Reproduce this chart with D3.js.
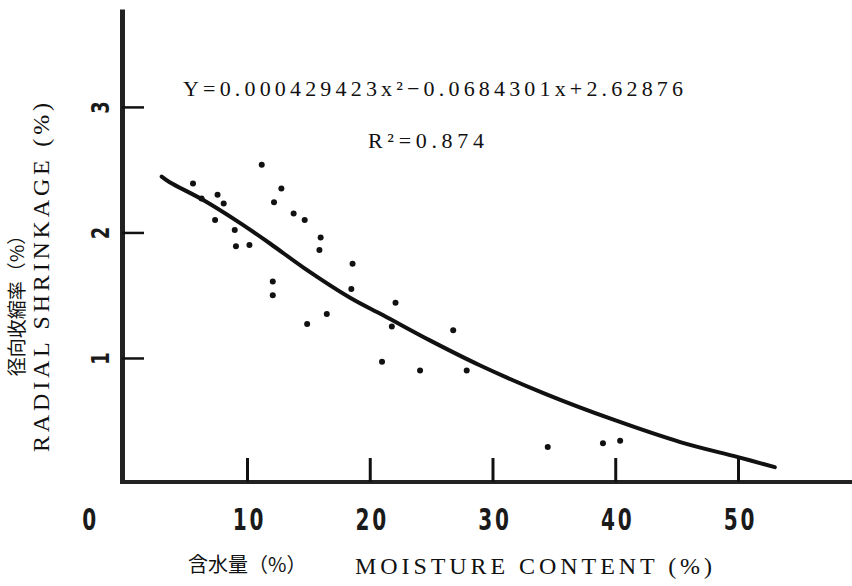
<!DOCTYPE html>
<html>
<head>
<meta charset="utf-8">
<script src="https://cdn.jsdelivr.net/npm/d3@7"></script>
<style>
	body { margin: 0; background: #fff; }
</style>
</head>
<body>
<svg class="chart"></svg>
<script>
/* Radial shrinkage vs moisture content, scatter with fitted curve */

// measured points (moisture %, radial shrinkage %)
var moisture = [5.6, 6.3, 7.6, 7.4, 8.1, 9.0, 9.1, 10.2, 11.2, 12.2, 12.8, 13.8, 14.7,
	15.9, 16.0, 18.6, 12.1, 12.1, 18.5, 22.1, 16.5, 14.9, 21.8, 26.8, 21.0, 24.1,
	27.9, 34.5, 39.0, 40.4];
var shrinkage = [2.39, 2.27, 2.30, 2.10, 2.23, 2.02, 1.89, 1.90, 2.54, 2.24, 2.35, 2.15, 2.10,
	1.86, 1.96, 1.75, 1.61, 1.50, 1.55, 1.44, 1.35, 1.27, 1.25, 1.22, 0.97, 0.90,
	0.90, 0.29, 0.32, 0.34];

// fitted curve as drawn in the figure
var fitMoisture = [3.05, 3.7, 6.4, 9.2, 11.9, 14.6, 18.4, 21.1, 24.9, 29.0, 34.4, 39.8, 45.3, 50.0, 53.0];
var fitShrinkage = [2.445, 2.40, 2.26, 2.09, 1.91, 1.72, 1.48, 1.34, 1.14, 0.94, 0.71, 0.51, 0.33, 0.21, 0.13];

var xTicks = [0, 10, 20, 30, 40, 50];
var yTicks = [1, 2, 3];

var equationText = "Y=0.000429423x²−0.0684301x+2.62876";
var r2Text = "R²=0.874";
var yTitleCn = "径向收縮率（%）";
var yTitleEn = "RADIAL SHRINKAGE (%)";
var xTitleCn = "含水量（%）";
var xTitleEn = "MOISTURE CONTENT (%)";

// stretch a text to a given width by letter spacing
function fitWidth(sel, w) {
	var n = sel.text().length;
	var bw = sel.node().getComputedTextLength();
	sel.attr("letter-spacing", Math.max(0, (w - bw) / (n - 1)));
}

function drawChart() {
	var width = 852, height = 586;
	var axisX = 122, axisY = 482;

	var x = d3.scaleLinear()
		.domain([0, 59.5])
		.range([124.25, 854.6]);

	var y = d3.scaleLinear()
		.domain([0, 3.78])
		.range([483.5, 9]);

	var svg = d3.select(".chart")
		.attr("width", width)
		.attr("height", height);

	// x axis, ticks pointing up into the plot
	var xAxis = d3.axisBottom(x)
		.tickValues(xTicks)
		.tickSizeInner(-24)
		.tickSizeOuter(0)
		.tickPadding(26)
		.tickFormat(d3.format("d"));

	var gx = svg.append("g")
		.attr("transform", "translate(0," + axisY + ")")
		.call(xAxis);
	gx.select(".domain")
		.attr("stroke", "#222")
		.attr("stroke-width", 4)
		.attr("d", "M" + (axisX - 2) + ",0H" + width);
	gx.selectAll(".tick line")
		.attr("stroke", "#111")
		.attr("stroke-width", 3)
		.attr("display", function(d) { return d === 0 ? "none" : null; });
	gx.selectAll(".tick text")
		.attr("font-family", "DejaVu Sans Condensed")
		.attr("font-weight", "bold")
		.attr("font-size", 31)
		.attr("letter-spacing", 4)
		.attr("fill", "#1a1a1a")
		.attr("transform", function(d) {
			return "translate(" + (d === 0 ? -34 : 2) + ",0) scale(0.72,1)";
		});

	// y axis, ticks pointing right
	var yAxis = d3.axisLeft(y)
		.tickValues(yTicks)
		.tickSizeInner(-22)
		.tickSizeOuter(0)
		.tickPadding(22)
		.tickFormat(d3.format("d"));

	var gy = svg.append("g")
		.attr("transform", "translate(" + axisX + ",0)")
		.call(yAxis);
	gy.select(".domain")
		.attr("stroke", "#222")
		.attr("stroke-width", 5);
	gy.selectAll(".tick line")
		.attr("stroke", "#111")
		.attr("stroke-width", 2.5);
	gy.selectAll(".tick text")
		.attr("font-family", "DejaVu Sans Condensed")
		.attr("font-weight", "bold")
		.attr("font-size", 25)
		.attr("fill", "#1a1a1a")
		.attr("x", 0)
		.attr("dy", "0.35em")
		.attr("text-anchor", "middle")
		.attr("transform", "translate(-22,0) rotate(-90) scale(0.8,1)");

	// fitted curve
	var fit = fitMoisture.map(function(m, i) { return [m, fitShrinkage[i]]; });
	var line = d3.line()
		.x(function(d) { return x(d[0]); })
		.y(function(d) { return y(d[1]); })
		.curve(d3.curveCatmullRom);

	svg.append("path")
		.datum(fit)
		.attr("fill", "none")
		.attr("stroke", "#111")
		.attr("stroke-width", 4)
		.attr("stroke-linecap", "round")
		.attr("d", line);

	// data points
	var pts = moisture.map(function(m, i) { return {m: m, s: shrinkage[i]}; });
	svg.selectAll(".dot")
		.data(pts)
	  .enter().append("circle")
		.attr("class", "dot")
		.attr("cx", function(d) { return x(d.m); })
		.attr("cy", function(d) { return y(d.s); })
		.attr("r", 3)
		.attr("fill", "#111");

	// equation
	var eq = svg.append("text")
		.attr("font-family", "Liberation Serif")
		.attr("font-size", 22)
		.attr("fill", "#111")
		.attr("x", 183)
		.attr("y", 96)
		.text(equationText);
	fitWidth(eq, 500);

	var r2 = svg.append("text")
		.attr("font-family", "Liberation Serif")
		.attr("font-size", 22)
		.attr("fill", "#111")
		.attr("x", 368)
		.attr("y", 148)
		.text(r2Text);
	fitWidth(r2, 116);

	// y titles
	var yt = svg.append("text")
		.attr("font-family", "Liberation Serif")
		.attr("font-size", 24)
		.attr("fill", "#111")
		.attr("transform", "translate(49,452) rotate(-90)")
		.text(yTitleEn);
	fitWidth(yt, 349);

	svg.append("text")
		.attr("font-family", "Noto Sans CJK JP")
		.attr("font-size", 19)
		.attr("fill", "#111")
		.attr("transform", "translate(17,301) rotate(-90)")
		.attr("text-anchor", "middle")
		.attr("dy", "0.38em")
		.text(yTitleCn);

	// x titles
	svg.append("text")
		.attr("font-family", "Noto Sans CJK JP")
		.attr("font-size", 20)
		.attr("fill", "#111")
		.attr("x", 188)
		.attr("y", 572)
		.text(xTitleCn);

	var xt = svg.append("text")
		.attr("font-family", "Liberation Serif")
		.attr("font-size", 24)
		.attr("fill", "#111")
		.attr("x", 355)
		.attr("y", 574)
		.text(xTitleEn);
	fitWidth(xt, 357);
}

drawChart();
</script>
</body>
</html>
